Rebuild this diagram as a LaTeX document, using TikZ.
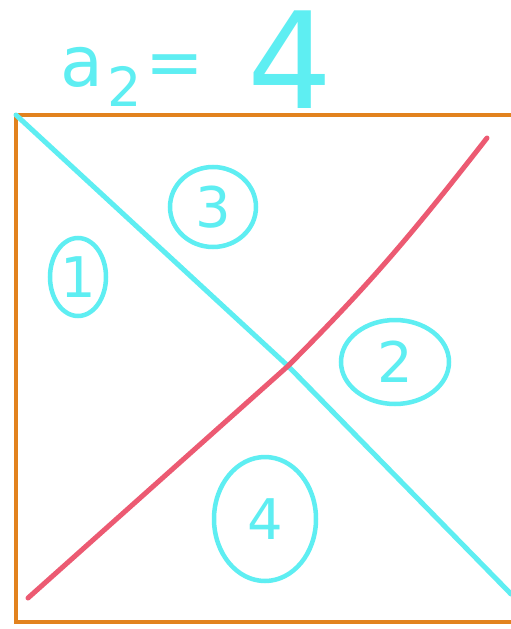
\documentclass[tikz,border=0pt]{standalone}
\usepackage{fontspec}
\setsansfont{DejaVu Sans}
\usetikzlibrary{shapes.geometric}

\definecolor{sketchcyan}{HTML}{5EEEF2}
\definecolor{sketchred}{HTML}{EC5A72}
\definecolor{sketchorange}{HTML}{E2821E}

\tikzset{
    region/.style={ellipse, draw=sketchcyan, line width=4.5pt, inner sep=0pt,
        text=sketchcyan, font=\sffamily\fontsize{56}{56}\selectfont},
    cyanline/.style={draw=sketchcyan, line width=5pt, line cap=round, line join=round},
    redline/.style={draw=sketchred, line width=5pt, line cap=round},
}

\begin{document}
\begin{tikzpicture}[x=1pt, y=-1pt]
    \useasboundingbox[fill=white] (0, 0) rectangle (511, 629);

    % Frame
    \draw[sketchorange, line width=4.5pt] (16, 115) rectangle (518, 622);

    % Label above the frame
    \node[text=sketchcyan, font=\sffamily\fontsize{70}{70}\selectfont, anchor=base west, inner sep=0pt]
        (eq) at (60, 86) {a\hspace{4pt}\raisebox{-20pt}{\fontsize{54}{54}\selectfont 2}\hspace{4pt}=};
    \node[text=sketchcyan, font=\sffamily\fontsize{134}{134}\selectfont, anchor=base west, inner sep=0pt]
        (val) at (247, 108) {4};

    % Diagonals
    \coordinate (tl) at (16, 115);
    \coordinate (br) at (511, 594);
    \coordinate (bl) at (28, 598);
    \coordinate (tr) at (487, 138);
    \coordinate (mid) at (288, 366);
    \draw[cyanline] (tl) -- (mid) -- (br);
    \draw[redline] (bl) -- (mid) to[out=45, in=-128] (tr);

    % Numbered regions
    \node[region, minimum width=56, minimum height=78] (r1) at (78, 277) {1};
    \node[region, minimum width=86, minimum height=80] (r3) at (213, 207) {3};
    \node[region, minimum width=108, minimum height=84] (r2) at (395, 362) {2};
    \node[region, minimum width=102, minimum height=124] (r4) at (265, 519) {4};
\end{tikzpicture}
\end{document}
